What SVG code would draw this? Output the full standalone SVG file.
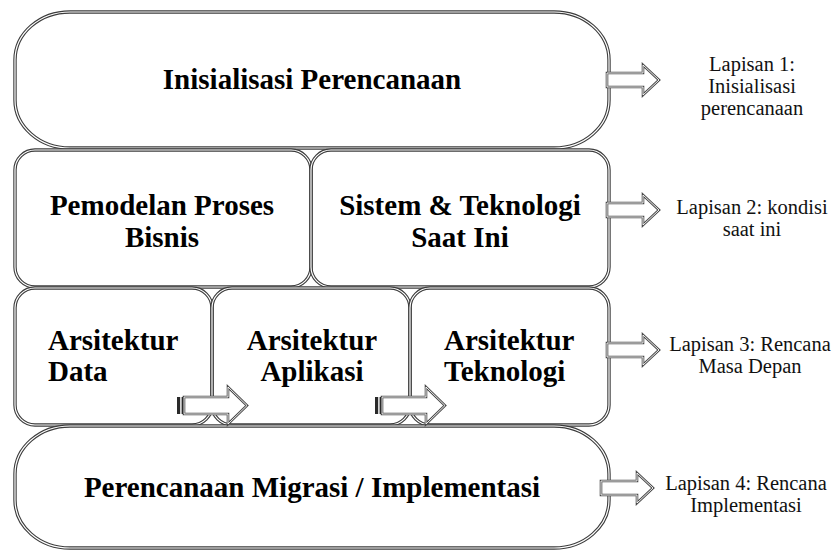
<svg xmlns="http://www.w3.org/2000/svg" width="840" height="560" viewBox="0 0 840 560">
  <defs>
    <style>
      .edge { fill: none; stroke: #3c3c3c; stroke-width: 3.4; }
      .core { fill: none; stroke: #ffffff; stroke-width: 1.2; }
      .arrow-edge { fill: #ffffff; stroke: #4a4a4a; stroke-width: 2.6; stroke-linejoin: miter; }
      .arrow-core { fill: none; stroke: #ffffff; stroke-width: 0.9; stroke-linejoin: miter; }
      .stripe { fill: #2a2a2a; }
      .title { font-family: "Liberation Serif", "Times New Roman", serif; font-weight: bold; font-size: 29px; fill: #000; }
      .note { font-family: "Liberation Serif", "Times New Roman", serif; font-size: 20.5px; fill: #111; text-anchor: middle; }
      .mid { text-anchor: middle; }
    </style>
    <!-- block arrow pointing right, origin at shaft start / centre line -->
    <path id="blk" d="M0,-7 H36 V-15 L52,0 L36,15 V7 H0 Z"/>
    <!-- striped block arrow, origin at tail / centre line -->
    <path id="strp" d="M7,-8.5 H51 V-18.5 L70,0 L51,18.5 V8.5 H7 Z"/>
  </defs>

  <rect width="840" height="560" fill="#ffffff"/>

  <!-- layer 1 -->
  <g id="inisialisasi">
    <rect class="edge" x="15" y="12" width="594" height="136" rx="55" ry="48"/>
    <rect class="core" x="15" y="12" width="594" height="136" rx="55" ry="48"/>
    <text class="title mid" x="312" y="89">Inisialisasi Perencanaan</text>
  </g>

  <!-- layer 2 -->
  <g id="pemodelan">
    <rect class="edge" x="15" y="150" width="296" height="137" rx="20" ry="20"/>
    <rect class="core" x="15" y="150" width="296" height="137" rx="20" ry="20"/>
    <text class="title mid" x="162" y="215">Pemodelan Proses</text>
    <text class="title mid" x="162" y="247">Bisnis</text>
  </g>
  <g id="sistem">
    <rect class="edge" x="311" y="150" width="298" height="137" rx="20" ry="20"/>
    <rect class="core" x="311" y="150" width="298" height="137" rx="20" ry="20"/>
    <text class="title mid" x="460" y="215">Sistem &amp; Teknologi</text>
    <text class="title mid" x="460" y="247">Saat Ini</text>
  </g>

  <!-- layer 3 -->
  <g id="data">
    <rect class="edge" x="15" y="288" width="197" height="137" rx="20" ry="20"/>
    <rect class="core" x="15" y="288" width="197" height="137" rx="20" ry="20"/>
    <text class="title" x="48" y="350">Arsitektur</text>
    <text class="title" x="48" y="381">Data</text>
  </g>
  <g id="aplikasi">
    <rect class="edge" x="212" y="288" width="198" height="137" rx="20" ry="20"/>
    <rect class="core" x="212" y="288" width="198" height="137" rx="20" ry="20"/>
    <text class="title mid" x="312" y="350">Arsitektur</text>
    <text class="title mid" x="312" y="381">Aplikasi</text>
  </g>
  <g id="teknologi">
    <rect class="edge" x="410" y="288" width="199" height="137" rx="20" ry="20"/>
    <rect class="core" x="410" y="288" width="199" height="137" rx="20" ry="20"/>
    <text class="title" x="444" y="350">Arsitektur</text>
    <text class="title" x="444" y="381">Teknologi</text>
  </g>

  <!-- layer 4 -->
  <g id="migrasi">
    <rect class="edge" x="15" y="426" width="594" height="122" rx="55" ry="48"/>
    <rect class="core" x="15" y="426" width="594" height="122" rx="55" ry="48"/>
    <text class="title mid" x="312" y="497">Perencanaan Migrasi / Implementasi</text>
  </g>

  <!-- connectors -->
  <g id="connectors">
    <!-- striped arrows between architecture boxes -->
    <g transform="translate(177,405.5)">
      <use href="#strp" class="arrow-edge"/>
      <use href="#strp" class="arrow-core"/>
      <rect class="stripe" x="0" y="-8.5" width="3.2" height="17"/>
      <rect class="stripe" x="4.6" y="-8.5" width="1.6" height="17"/>
    </g>
    <g transform="translate(375,405.5)">
      <use href="#strp" class="arrow-edge"/>
      <use href="#strp" class="arrow-core"/>
      <rect class="stripe" x="0" y="-8.5" width="3.2" height="17"/>
      <rect class="stripe" x="4.6" y="-8.5" width="1.6" height="17"/>
    </g>
    <!-- arrows towards layer notes -->
    <g transform="translate(607,80)">
      <use href="#blk" class="arrow-edge"/>
      <use href="#blk" class="arrow-core"/>
    </g>
    <g transform="translate(607,210)">
      <use href="#blk" class="arrow-edge"/>
      <use href="#blk" class="arrow-core"/>
    </g>
    <g transform="translate(607,350)">
      <use href="#blk" class="arrow-edge"/>
      <use href="#blk" class="arrow-core"/>
    </g>
    <g transform="translate(601,488)">
      <use href="#blk" class="arrow-edge"/>
      <use href="#blk" class="arrow-core"/>
    </g>
  </g>

  <!-- layer notes -->
  <g id="notes">
    <text class="note" x="752" y="71">Lapisan 1:</text>
    <text class="note" x="752" y="93">Inisialisasi</text>
    <text class="note" x="752" y="115">perencanaan</text>
    <text class="note" x="752" y="214">Lapisan 2: kondisi</text>
    <text class="note" x="752" y="236">saat ini</text>
    <text class="note" x="750" y="351">Lapisan 3: Rencana</text>
    <text class="note" x="750" y="373">Masa Depan</text>
    <text class="note" x="746" y="490">Lapisan 4: Rencana</text>
    <text class="note" x="746" y="512">Implementasi</text>
  </g>
</svg>
